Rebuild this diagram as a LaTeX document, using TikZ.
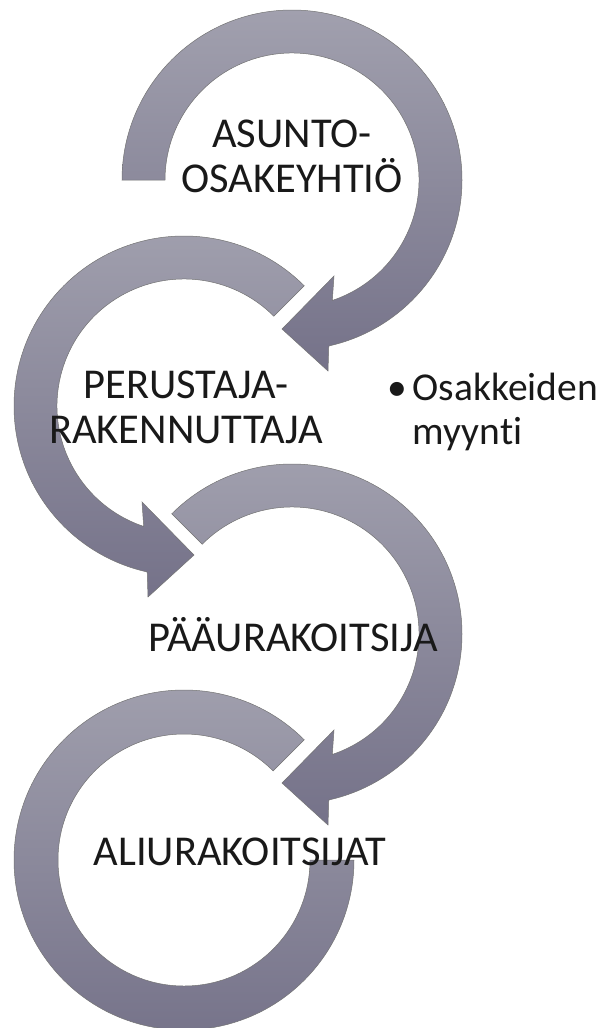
\documentclass[tikz,border=0pt]{standalone}
\usepackage{fontspec}
\setmainfont[Ligatures=NoCommon]{Carlito}
\usepackage{tikz}
\definecolor{ringtop}{RGB}{161,160,174}
\definecolor{ringbot}{RGB}{117,114,137}
\definecolor{labelink}{RGB}{25,25,25}

\begin{document}
\begin{tikzpicture}[x=1pt, y=1pt,
	ring/.style={draw=black!55, line width=0.5pt, top color=ringtop, bottom color=ringbot},
	lbl/.style={inner sep=0pt, text=labelink, align=center, font=\fontsize{42.5}{45}\selectfont}]
	\useasboundingbox (0,0) rectangle (600,-1028);
	\foreach \cx/\cy/\sx/\ta in {292/-180/1/180, 184/-406/-1/135, 292/-634/1/135} {\shade[ring, shift={(\cx,\cy)}, xscale=\sx] (\ta:170) arc[start angle=\ta, end angle=-77.5, radius=170] -- (36,-191) -- (-10,-149) -- (42,-96) -- (-71.5:127) arc[start angle=-71.5, end angle=\ta, radius=127] -- cycle;}
	\shade[ring, shift={(184,-860)}] (45:170) arc[start angle=45, end angle=360, radius=170] -- (0:126) arc[start angle=360, end angle=45, radius=126] -- cycle;
	\node[lbl, anchor=base] (asunto) at (292,-192) {ASUNTO-\\OSAKEYHTIÖ};
	\node[lbl, anchor=base] (perustaja) at (186,-443) {PERUSTAJA-\\RAKENNUTTAJA};
	\node[lbl, anchor=base] (paaurak) at (293,-651) {PÄÄURAKOITSIJA};
	\node[lbl, anchor=base] (aliurak) at (240,-865) {ALIURAKOITSIJAT};
	\node[lbl, anchor=base west, align=left, font=\fontsize{39.5}{44}\selectfont] (myynti) at (387,-400) {\begin{tabular}[t]{@{}l@{\hspace{6pt}}l@{}}•&Osakkeiden\\&myynti\end{tabular}};
\end{tikzpicture}
\end{document}
